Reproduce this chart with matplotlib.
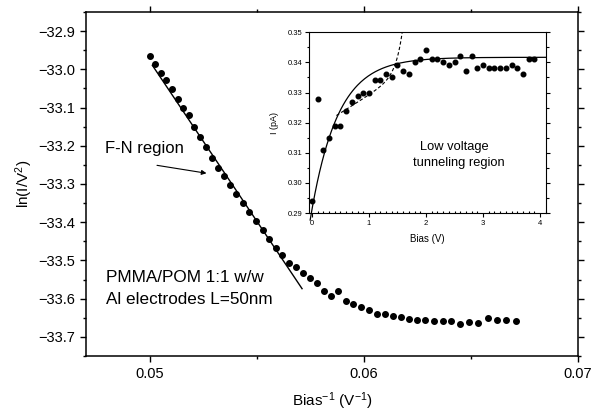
import numpy as np
from matplotlib import pyplot as plt
from matplotlib.ticker import MultipleLocator, FuncFormatter

plt.rcParams['font.family'] = ['Liberation Sans', 'DejaVu Sans']
plt.rcParams['mathtext.fontset'] = 'custom'
plt.rcParams['mathtext.rm'] = 'Liberation Sans'
plt.rcParams['mathtext.it'] = 'Liberation Sans:italic'

# main plot: ln(I/V^2) vs 1/V
inv_bias = [0.05000, 0.05023, 0.05050, 0.05075, 0.05101, 0.05128, 0.05154, 0.05181,
            0.05207, 0.05235, 0.05262, 0.05290, 0.05319, 0.05347, 0.05375, 0.05403,
            0.05433, 0.05464, 0.05494, 0.05527, 0.05555, 0.05586, 0.05617, 0.05650,
            0.05681, 0.05714, 0.05748, 0.05780, 0.05813, 0.05846, 0.05880, 0.05916,
            0.05950, 0.05985, 0.06022, 0.06059, 0.06097, 0.06134, 0.06171, 0.06209,
            0.06246, 0.06286, 0.06327, 0.06368, 0.06408, 0.06450, 0.06492, 0.06534,
            0.06578, 0.06621, 0.06665, 0.06709]
ln_iv2 = [-32.965, -32.987, -33.010, -33.029, -33.052, -33.078, -33.100, -33.120,
          -33.150, -33.177, -33.203, -33.231, -33.257, -33.280, -33.303, -33.325,
          -33.349, -33.373, -33.398, -33.420, -33.444, -33.468, -33.485, -33.506,
          -33.518, -33.532, -33.546, -33.558, -33.580, -33.594, -33.581, -33.605,
          -33.613, -33.622, -33.629, -33.640, -33.641, -33.646, -33.649, -33.653,
          -33.655, -33.656, -33.658, -33.659, -33.659, -33.666, -33.660, -33.663,
          -33.651, -33.657, -33.655, -33.659]
# F-N linear fit
fn_slope = -83.5
fn_intercept = -28.806
fn_range = [0.0501, 0.0571]

# inset: I vs V
bias = [0.0, 0.1, 0.2, 0.3, 0.4, 0.5, 0.6, 0.7, 0.8, 0.9,
        1.0, 1.1, 1.2, 1.3, 1.4, 1.5, 1.6, 1.7, 1.8, 1.9,
        2.0, 2.1, 2.2, 2.3, 2.4, 2.5, 2.6, 2.7, 2.8, 2.9,
        3.0, 3.1, 3.2, 3.3, 3.4, 3.5, 3.6, 3.7, 3.8, 3.9]
current = [0.294, 0.328, 0.311, 0.315, 0.319, 0.319, 0.324, 0.327, 0.329, 0.330,
           0.330, 0.334, 0.334, 0.336, 0.335, 0.339, 0.337, 0.336, 0.340, 0.341,
           0.344, 0.341, 0.341, 0.340, 0.339, 0.340, 0.342, 0.337, 0.342, 0.338,
           0.339, 0.338, 0.338, 0.338, 0.338, 0.339, 0.338, 0.336, 0.341, 0.341]
# saturating fit (solid) and low-voltage fit (dashed)
sat_a, sat_b, sat_t = 0.3417, 0.0507, 0.471
lv_a, lv_b, lv_c, lv_k, lv_x0 = 0.3172, 0.012, 0.0161, 8.8, 1.6

fig = plt.figure(figsize=(5.92, 4.12), dpi=100)
ax = fig.add_axes([0.1453, 0.1359, 0.831, 0.835])

ax.plot(inv_bias, ln_iv2, 'o', color='black', markersize=4)
xf = np.linspace(fn_range[0], fn_range[1], 50)
ax.plot(xf, fn_slope * xf + fn_intercept, color='black', linewidth=1)

ax.set_xlim(0.047, 0.07)
ax.set_ylim(-33.75, -32.85)
ax.set_xticks([0.05, 0.06, 0.07])
ax.xaxis.set_minor_locator(MultipleLocator(0.005))
ax.yaxis.set_major_locator(MultipleLocator(0.1))
ax.yaxis.set_minor_locator(MultipleLocator(0.05))
ax.xaxis.set_major_formatter(FuncFormatter(lambda v, p: f'{v:.2f}'))
ax.yaxis.set_major_formatter(FuncFormatter(lambda v, p: f'{v:.1f}'.replace('-', '\u2212')))
ax.tick_params(which='both', direction='out', top=True, right=True,
               labelsize=10.5, width=1)
ax.tick_params(which='major', length=4.5)
ax.tick_params(which='minor', length=2.5)
for s in ax.spines.values():
    s.set_linewidth(1.1)

ax.set_xlabel('Bias$^{-1}$ (V$^{-1}$)', fontsize=11, labelpad=7)
ax.set_ylabel('ln(I/V$^2$)', fontsize=11, labelpad=2)

ax.text(0.04791, -33.208, 'F-N region', fontsize=12, va='center')
ax.annotate('', xy=(0.05276, -33.273), xytext=(0.05019, -33.250),
            arrowprops=dict(arrowstyle='-|>', color='black', lw=0.8, mutation_scale=7))
ax.text(0.04794, -33.545, 'PMMA/POM 1:1 w/w', fontsize=12.3, va='center')
ax.text(0.04794, -33.602, 'Al electrodes L=50nm', fontsize=12.3, va='center')

# inset
ins = fig.add_axes([0.522, 0.483, 0.400, 0.4386])
ins.plot(bias, current, 'o', color='black', markersize=3.3)
xs = np.linspace(-0.03, 4.1, 200)
ins.plot(xs, sat_a - sat_b * np.exp(-xs / sat_t), color='black', linewidth=0.9, clip_on=False)
xd = np.linspace(0.43, 1.62, 100)
ins.plot(xd, lv_a + lv_b * xd + lv_c * np.exp(lv_k * (xd - lv_x0)), '--',
         color='black', linewidth=0.8, dashes=(3, 2))

ins.set_xlim(-0.05, 4.1)
ins.set_ylim(0.29, 0.35)
ins.xaxis.set_major_locator(MultipleLocator(1))
ins.xaxis.set_minor_locator(MultipleLocator(0.1))
ins.yaxis.set_major_locator(MultipleLocator(0.01))
ins.yaxis.set_minor_locator(MultipleLocator(0.005))
ins.yaxis.set_major_formatter(FuncFormatter(lambda v, p: f'{v:.2f}'))
ins.tick_params(which='both', direction='out', right=True, labelsize=5.5, width=0.8, pad=2)
ins.tick_params(which='major', length=3)
ins.tick_params(which='minor', length=1.8)
ins.tick_params(axis='x', which='minor', direction='in')
ins.set_xlabel('Bias (V)', fontsize=7, labelpad=5)
ins.set_ylabel('I (pA)', fontsize=6.5, labelpad=6)
ins.text(0.615, 0.367, 'Low voltage', transform=ins.transAxes, fontsize=9.3,
         ha='center', va='center')
ins.text(0.634, 0.277, 'tunneling region', transform=ins.transAxes, fontsize=9.3,
         ha='center', va='center')

plt.savefig('out.png', dpi=100)
